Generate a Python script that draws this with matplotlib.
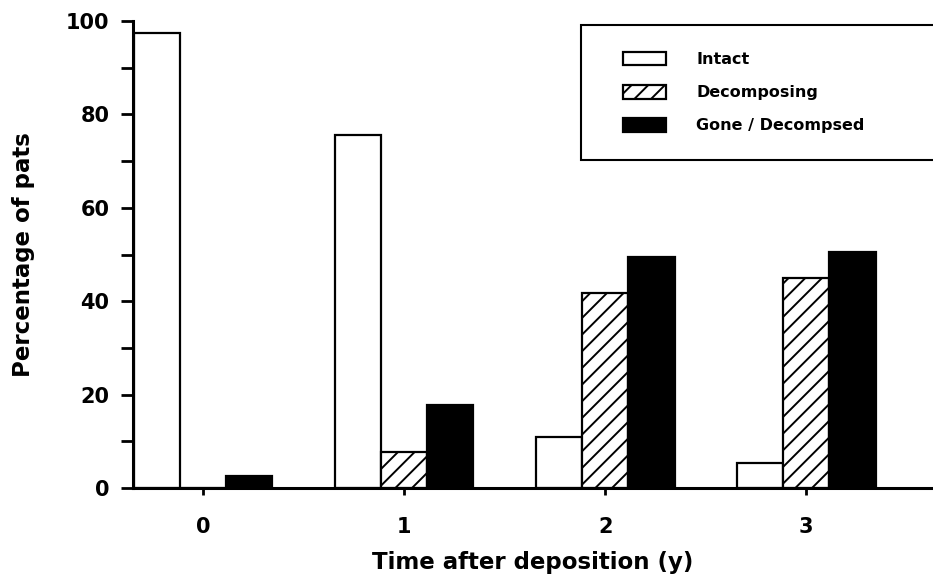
import matplotlib
matplotlib.use("Agg")
import matplotlib.pyplot as plt
from matplotlib.patches import Rectangle
from matplotlib.legend_handler import HandlerPatch
import numpy as np

years = [0, 1, 2, 3]
tick_labels = ["0", "1", "2", "3"]
intact = [97.4, 75.6, 10.9, 5.4]
decomposing = [0.0, 7.7, 41.8, 45.0]
gone = [2.6, 17.8, 49.5, 50.5]

plt.rcParams['font.family'] = ['DejaVu Sans']
plt.rcParams['font.weight'] = 'bold'
plt.rcParams['hatch.linewidth'] = 1.4

fig = plt.figure(figsize=(9.33, 5.77), dpi=100)
ax = fig.add_axes([0.1426, 0.1542, 0.8574, 0.8094])

x = np.arange(len(years))
w = 0.23
b1 = ax.bar(x - w, intact, w, color='white', edgecolor='black', linewidth=1.6, label='Intact')
b2 = ax.bar(x, decomposing, w, color='white', edgecolor='black', linewidth=1.6, hatch='//', label='Decomposing')
b3 = ax.bar(x + w, gone, w, color='black', edgecolor='black', linewidth=1.6, label='Gone / Decompsed')

ax.set_xlim(-0.348, 3.63)
ax.set_ylim(0, 100)
ax.set_xticks(x)
ax.set_xticklabels(tick_labels, fontsize=15, fontweight='bold')
ax.set_yticks([0, 20, 40, 60, 80, 100])
ax.set_yticklabels(["0", "20", "40", "60", "80", "100"], fontsize=15, fontweight='bold')
ax.set_yticks([10, 30, 50, 70, 90], minor=True)
ax.tick_params(axis='y', which='both', direction='out', length=9, width=2, pad=8)
ax.tick_params(axis='x', direction='out', length=5, width=2, pad=16)

for s in ['top', 'right']:
    ax.spines[s].set_visible(False)
for s in ['left', 'bottom']:
    ax.spines[s].set_linewidth(2.2)

ax.set_xlabel("Time after deposition (y)", fontsize=16.5, fontweight='bold', labelpad=10)
ax.set_ylabel("Percentage of pats", fontsize=16.5, fontweight='bold', labelpad=22)


class OffsetPatchHandler(HandlerPatch):
    def __init__(self, offset):
        self.offset = offset

        def make(legend, orig_handle, xdescent, ydescent, width, height, fontsize):
            return Rectangle((-xdescent + self.offset, -ydescent), width - self.offset, height)
        super().__init__(patch_func=make)


fs = 11.5
off_px = 15
off_pt = off_px * 72 / 100
handles = [b1.patches[0], b2.patches[0], b3.patches[0]]
labels = ['Intact', 'Decomposing', 'Gone / Decompsed']
handler = OffsetPatchHandler(off_pt)
leg = ax.legend(handles, labels, loc='upper left', bbox_to_anchor=(0.623, 0.957, 0.45, 0.0),
                bbox_transform=fig.transFigure, mode='expand', fancybox=False,
                frameon=True, edgecolor='black', prop={'weight': 'bold', 'size': fs},
                handlelength=(43 + off_px) / 16.0, handleheight=0.94, handletextpad=1.9,
                labelspacing=1.12, borderpad=1.68, borderaxespad=0,
                handler_map={h: handler for h in handles})
leg.get_frame().set_linewidth(1.5)
leg.get_frame().set_alpha(1)

fig.savefig("out.png", dpi=100)
